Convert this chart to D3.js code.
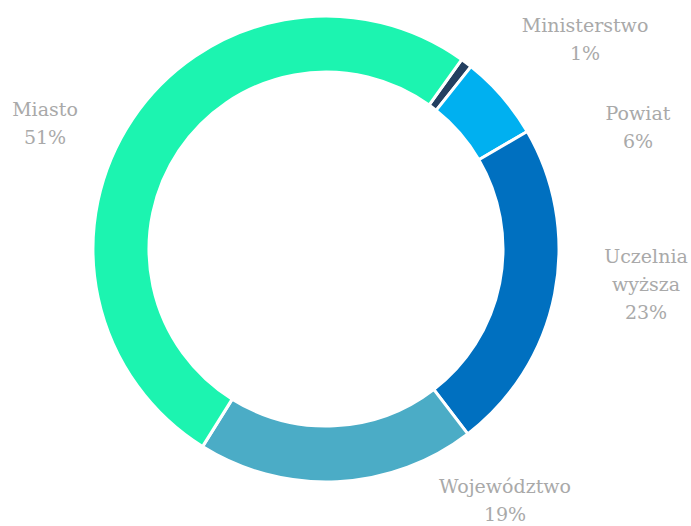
<!DOCTYPE html>
<html>
<head>
<meta charset="utf-8">
<script src="https://cdn.jsdelivr.net/npm/d3@7"></script>
<style>
  body { margin: 0; background: #fff; }
</style>
</head>
<body>
<div id="chart"></div>
<script>
// data
var categories = ["Ministerstwo", "Powiat", "Uczelnia wyższa", "Województwo", "Miasto"];
var shares = [0.8, 5.9, 23.0, 19.3, 51.0];
var pctLabels = ["1%", "6%", "23%", "19%", "51%"];
var colors = ["#243f60", "#00b0f0", "#0070c0", "#4bacc6", "#1cf4b0"];

// layout
var width = 691, height = 526;
var cx = 326, cy = 249, outerR = 233, innerR = 177;
var firstAngle = 35.6 * Math.PI / 180;
// label anchor (baseline of first line) per category
var labelAt = {
  "Ministerstwo": [585, 32],
  "Powiat": [638, 120],
  "Uczelnia wyższa": [646, 263],
  "Województwo": [505, 493],
  "Miasto": [45, 116]
};
var lineH = 28;
var labelFont = "'DejaVu Serif', serif";

var svg = d3.select("#chart").append("svg")
    .attr("width", width)
    .attr("height", height);

var pie = d3.pie()
    .sort(null)
    .value(function(d) { return d; })
    .startAngle(firstAngle)
    .endAngle(firstAngle + 2 * Math.PI);

var arc = d3.arc()
    .innerRadius(innerR)
    .outerRadius(outerR);

var g = svg.append("g")
    .attr("transform", "translate(" + cx + "," + cy + ")");

g.selectAll(".slice")
    .data(pie(shares))
  .enter().append("path")
    .attr("class", "slice")
    .attr("d", arc)
    .style("fill", function(d, i) { return colors[i]; })
    .style("stroke", "#fff")
    .style("stroke-width", 3)
    .style("stroke-linejoin", "miter");

// labels
categories.forEach(function(name, i) {
  var pos = labelAt[name];
  var lines = name === "Uczelnia wyższa" ? ["Uczelnia", "wyższa"] : [name];
  lines.push(pctLabels[i]);
  var t = svg.append("text")
      .attr("text-anchor", "middle")
      .attr("x", pos[0])
      .attr("y", pos[1])
      .style("font-family", labelFont)
      .style("font-size", "19px")
      .style("fill", "#a9a9a9");
  lines.forEach(function(s, j) {
    t.append("tspan")
        .attr("x", pos[0])
        .attr("y", pos[1] + j * lineH)
        .text(s);
  });
});
</script>
</body>
</html>
